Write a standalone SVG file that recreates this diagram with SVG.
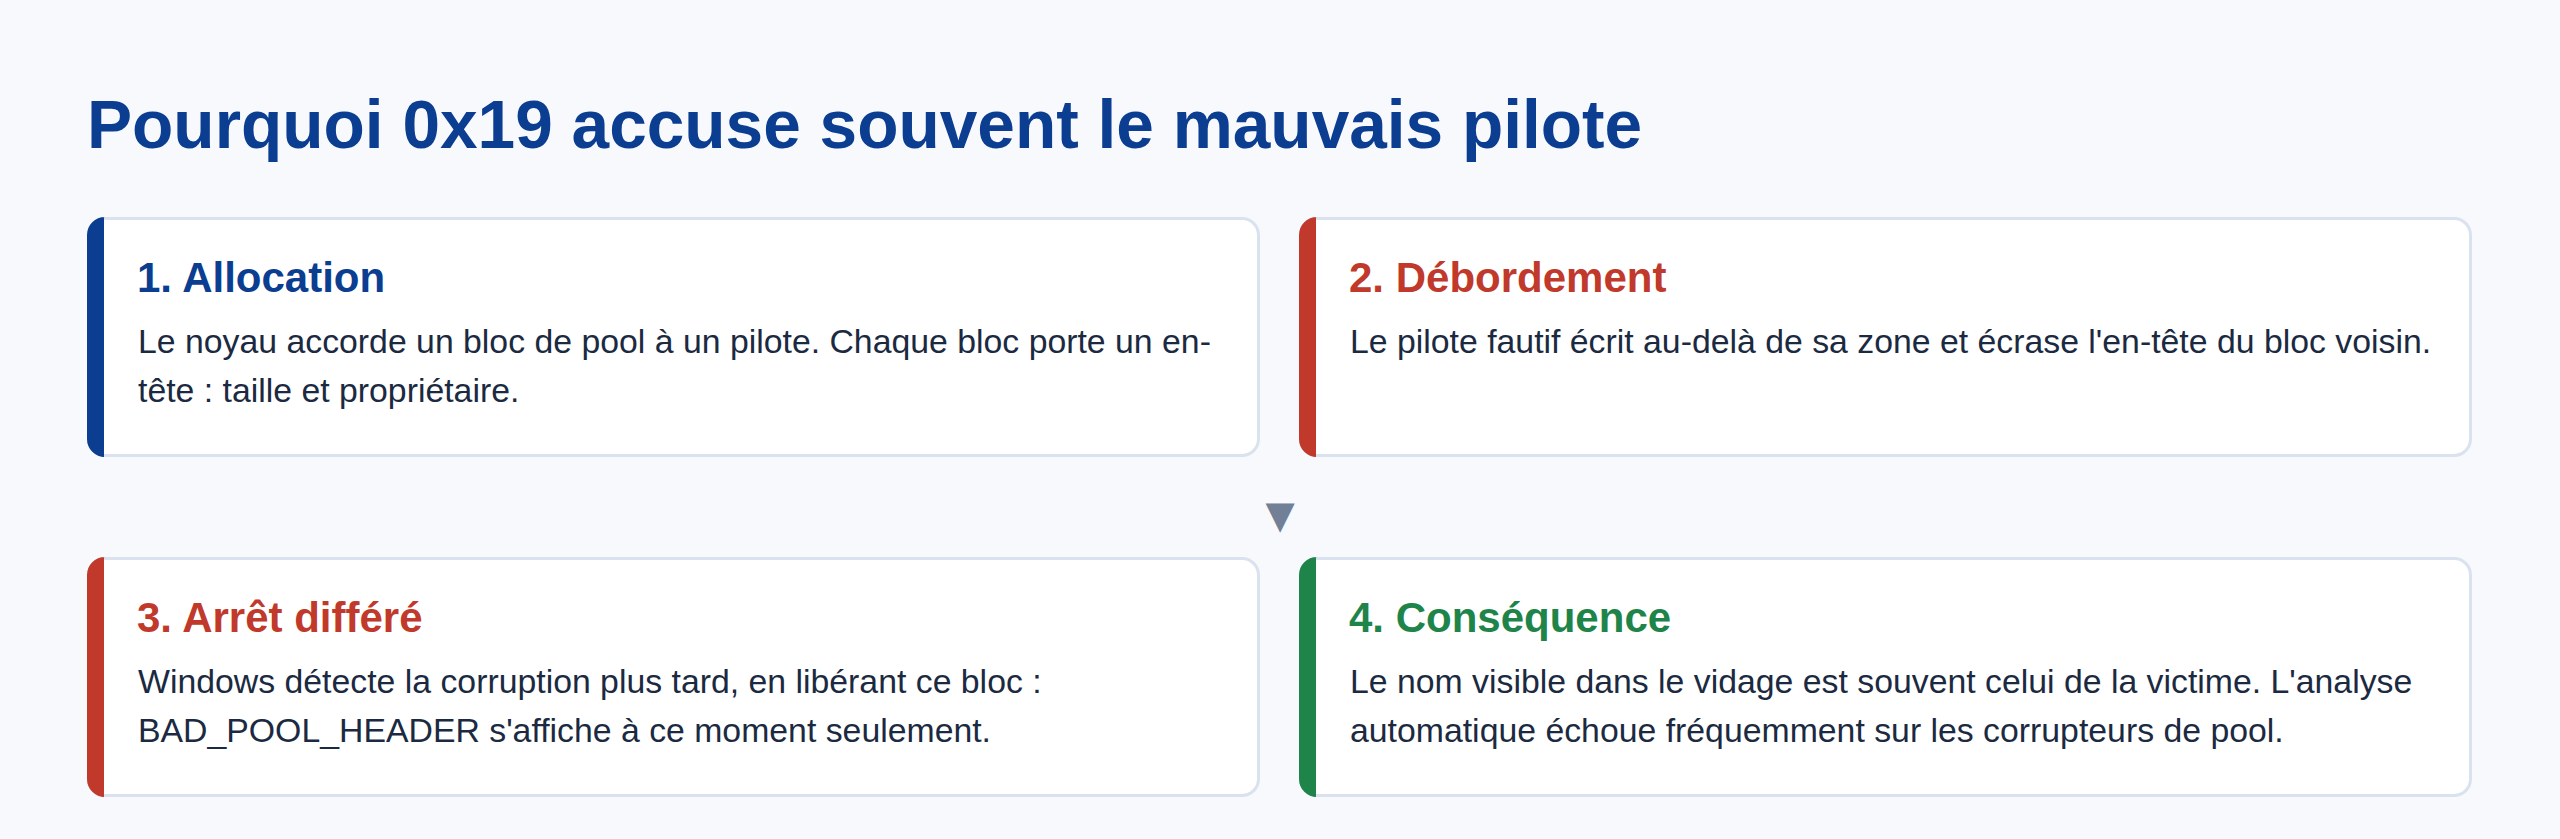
<svg xmlns="http://www.w3.org/2000/svg" width="2560" height="839" viewBox="0 0 2560 839">
  <style>
    .title { font-family: "Liberation Sans", Arial, sans-serif; font-weight: 700; font-size: 67.6px; fill: #0b3d91; }
    .card { fill: #ffffff; stroke: #d9e2ee; stroke-width: 3; }
    .h { font-family: "Liberation Sans", Arial, sans-serif; font-weight: 700; font-size: 42px; }
    .body { font-family: "Liberation Sans", Arial, sans-serif; font-size: 33.8px; fill: #1b2a41; }
    .blue { fill: #0b3d91; }
    .red { fill: #c0392b; }
    .green { fill: #1e8449; }
    .arrow { font-family: "DejaVu Sans", sans-serif; font-size: 38px; fill: #718096; }
  </style>
  <rect x="0" y="0" width="2560" height="839" fill="#f7f9fc"/>
  <text class="title" x="87" y="148">Pourquoi 0x19 accuse souvent le mauvais pilote</text>

  <g id="connectors">
    <text class="arrow" x="1280" y="527.5" text-anchor="middle">▼</text>
  </g>

  <g id="card1">
    <rect class="card" x="88.5" y="218.5" width="1170" height="237" rx="16.5"/>
    <path class="blue" d="M104,217 V457 H105 A18 18 0 0 1 87,439 V235 A18 18 0 0 1 105,217 Z"/>
    <text class="h blue" x="137" y="292">1. Allocation</text>
    <text class="body" x="138" y="353">Le noyau accorde un bloc de pool à un pilote. Chaque bloc porte un en-</text>
    <text class="body" x="138" y="401.5">tête : taille et propriétaire.</text>
  </g>

  <g id="card2">
    <rect class="card" x="1300.5" y="218.5" width="1170" height="237" rx="16.5"/>
    <path class="red" d="M1316,217 V457 H1317 A18 18 0 0 1 1299,439 V235 A18 18 0 0 1 1317,217 Z"/>
    <text class="h red" x="1349" y="292">2. Débordement</text>
    <text class="body" x="1350" y="353">Le pilote fautif écrit au-delà de sa zone et écrase l'en-tête du bloc voisin.</text>
  </g>

  <g id="card3">
    <rect class="card" x="88.5" y="558.5" width="1170" height="237" rx="16.5"/>
    <path class="red" d="M104,557 V797 H105 A18 18 0 0 1 87,779 V575 A18 18 0 0 1 105,557 Z"/>
    <text class="h red" x="137" y="632">3. Arrêt différé</text>
    <text class="body" x="138" y="693">Windows détecte la corruption plus tard, en libérant ce bloc :</text>
    <text class="body" x="138" y="741.5">BAD_POOL_HEADER s'affiche à ce moment seulement.</text>
  </g>

  <g id="card4">
    <rect class="card" x="1300.5" y="558.5" width="1170" height="237" rx="16.5"/>
    <path class="green" d="M1316,557 V797 H1317 A18 18 0 0 1 1299,779 V575 A18 18 0 0 1 1317,557 Z"/>
    <text class="h green" x="1349" y="632">4. Conséquence</text>
    <text class="body" x="1350" y="693">Le nom visible dans le vidage est souvent celui de la victime. L'analyse</text>
    <text class="body" x="1350" y="741.5">automatique échoue fréquemment sur les corrupteurs de pool.</text>
  </g>
</svg>
